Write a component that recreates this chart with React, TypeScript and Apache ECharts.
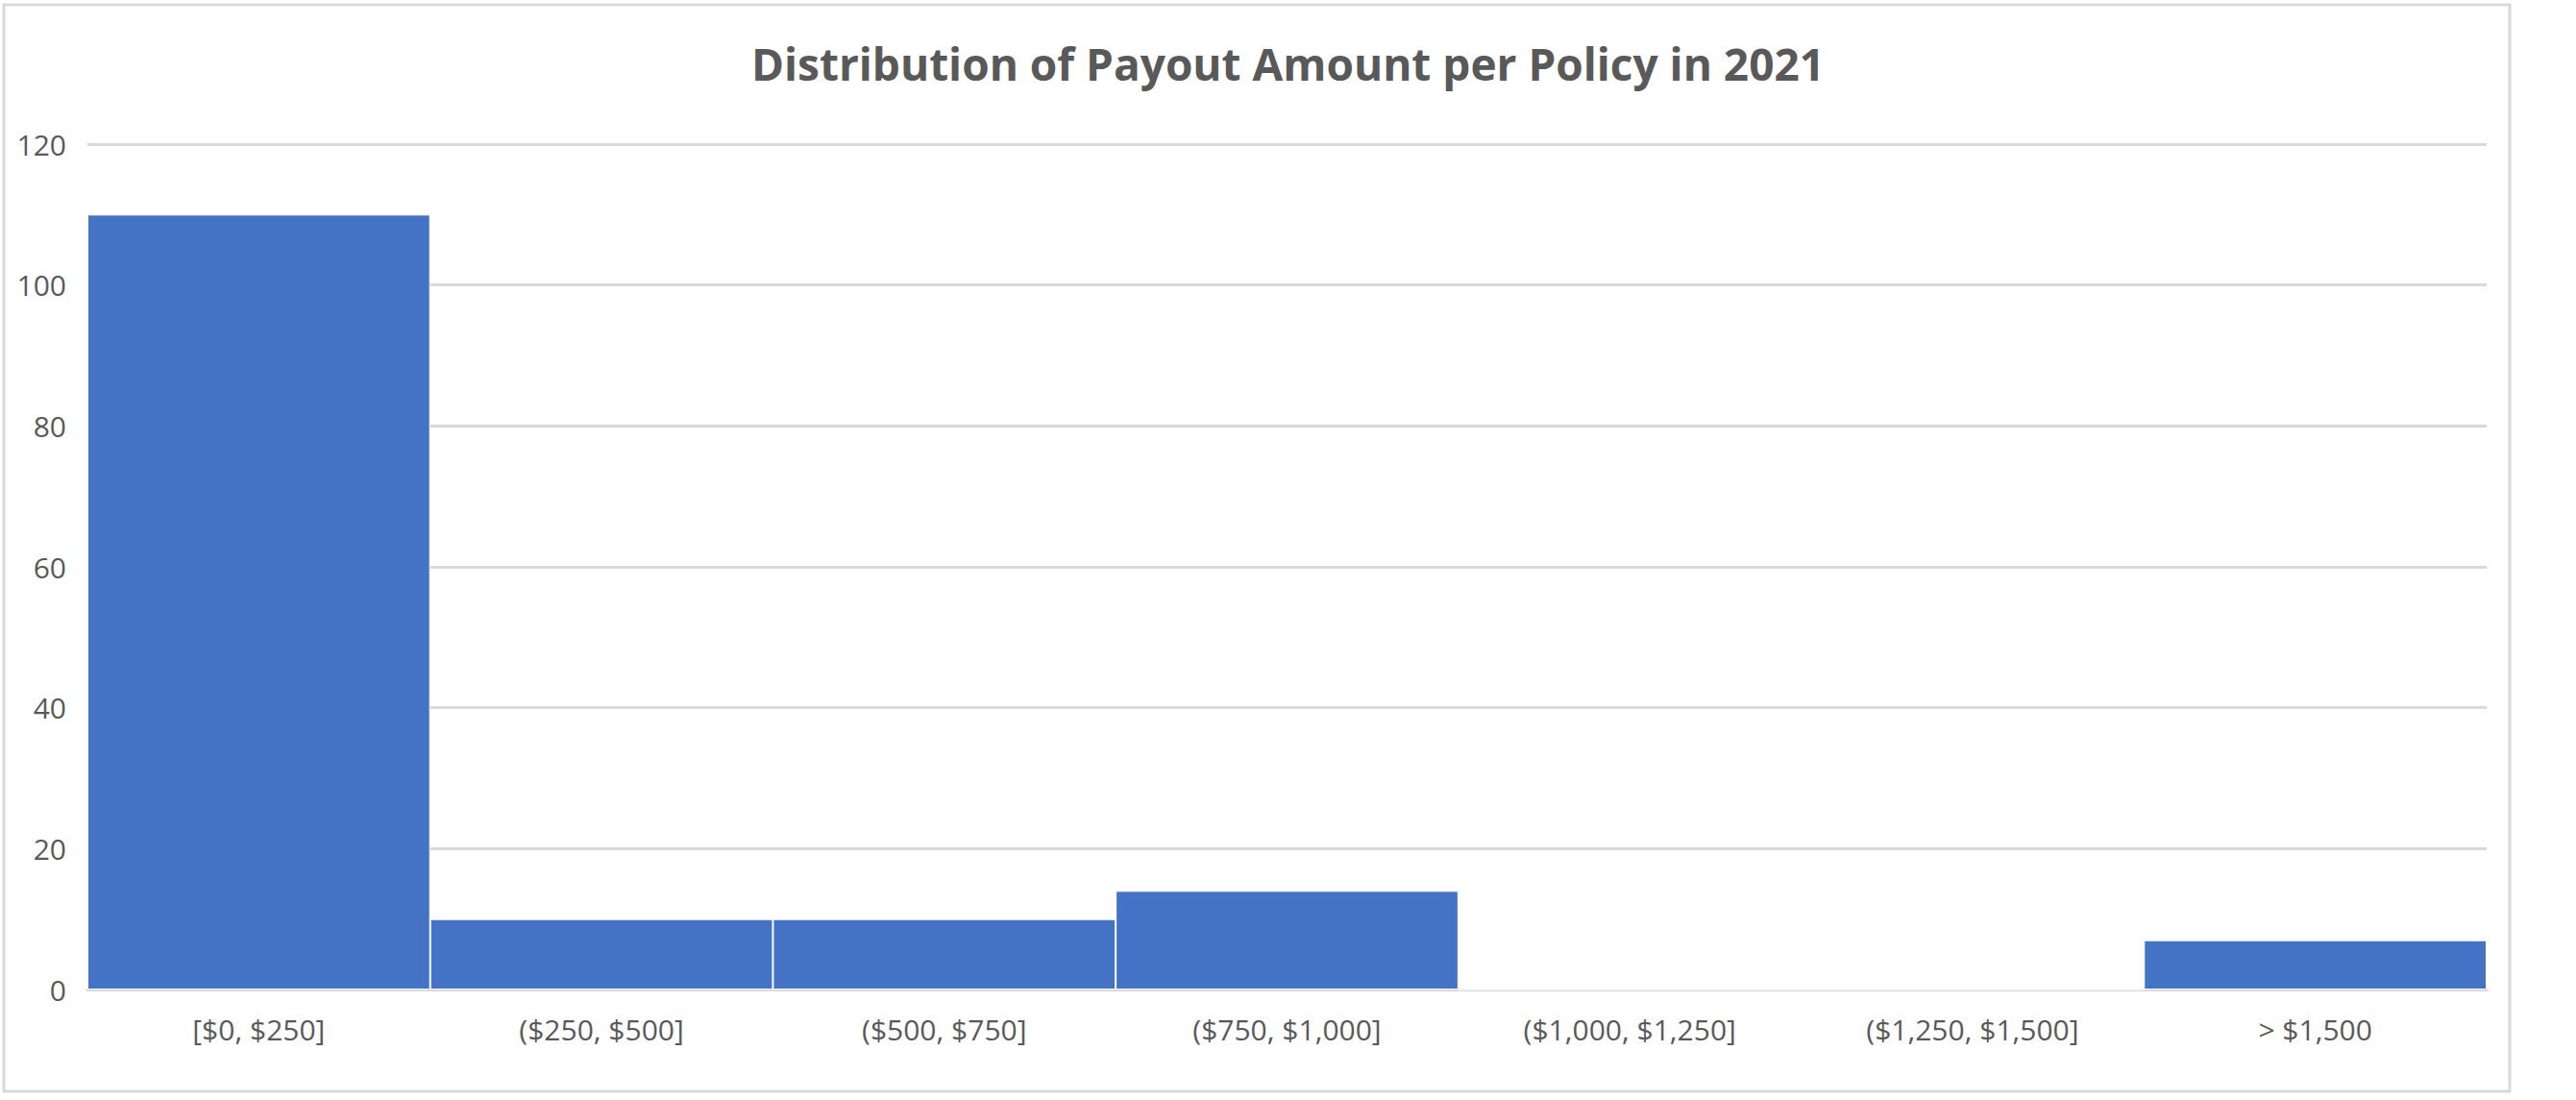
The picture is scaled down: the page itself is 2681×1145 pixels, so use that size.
import React, { useEffect, useRef } from "react";
import * as echarts from "echarts";

const categories = ["[$0, $250]", "($250, $500]", "($500, $750]", "($750, $1,000]", "($1,000, $1,250]", "($1,250, $1,500]", "> $1,500"];
const counts = [110, 10, 10, 14, 0, 0, 7];
const titleText = "Distribution of Payout Amount per Policy in 2021";

export default function App() {
  const ref = useRef<HTMLDivElement>(null);
  useEffect(() => {
    const chart = echarts.init(ref.current!, null, { renderer: "svg" });
    chart.setOption({
      animation: false,
      backgroundColor: "#fff",
      title: {
        text: titleText,
        left: "center",
        top: 38,
        textStyle: { fontFamily: "Open Sans", fontSize: 46, fontWeight: "bold", color: "#595959" },
      },
      graphic: [{ type: "rect", shape: { x: 4, y: 5, width: 2608, height: 1131 }, style: { fill: "none", stroke: "#d9d9d9", lineWidth: 3 }, silent: true }],
      grid: { left: 91, right: 2681 - 2588, top: 150, bottom: 1145 - 1030 },
      xAxis: {
        type: "category",
        data: categories,
        axisTick: { show: false },
        axisLine: { lineStyle: { color: "#d9d9d9", width: 3 } },
        axisLabel: { fontFamily: "Open Sans", fontSize: 30, color: "#595959", margin: 26 },
      },
      yAxis: {
        type: "value",
        min: 0,
        max: 120,
        interval: 20,
        axisLine: { show: false },
        axisLabel: { fontFamily: "Open Sans", fontSize: 30, color: "#595959", margin: 22 },
        splitLine: { lineStyle: { color: "#d9d9d9", width: 3 } },
      },
      series: [{
        type: "bar",
        data: counts,
        barCategoryGap: "0%",
        itemStyle: { color: "#4472c4", borderColor: "#ffffff", borderWidth: 1 },
      }],
    });
    return () => chart.dispose();
  }, []);
  return <div ref={ref} style={{ position: "fixed", left: 0, top: 0, width: 2681, height: 1145 }} />;
}
